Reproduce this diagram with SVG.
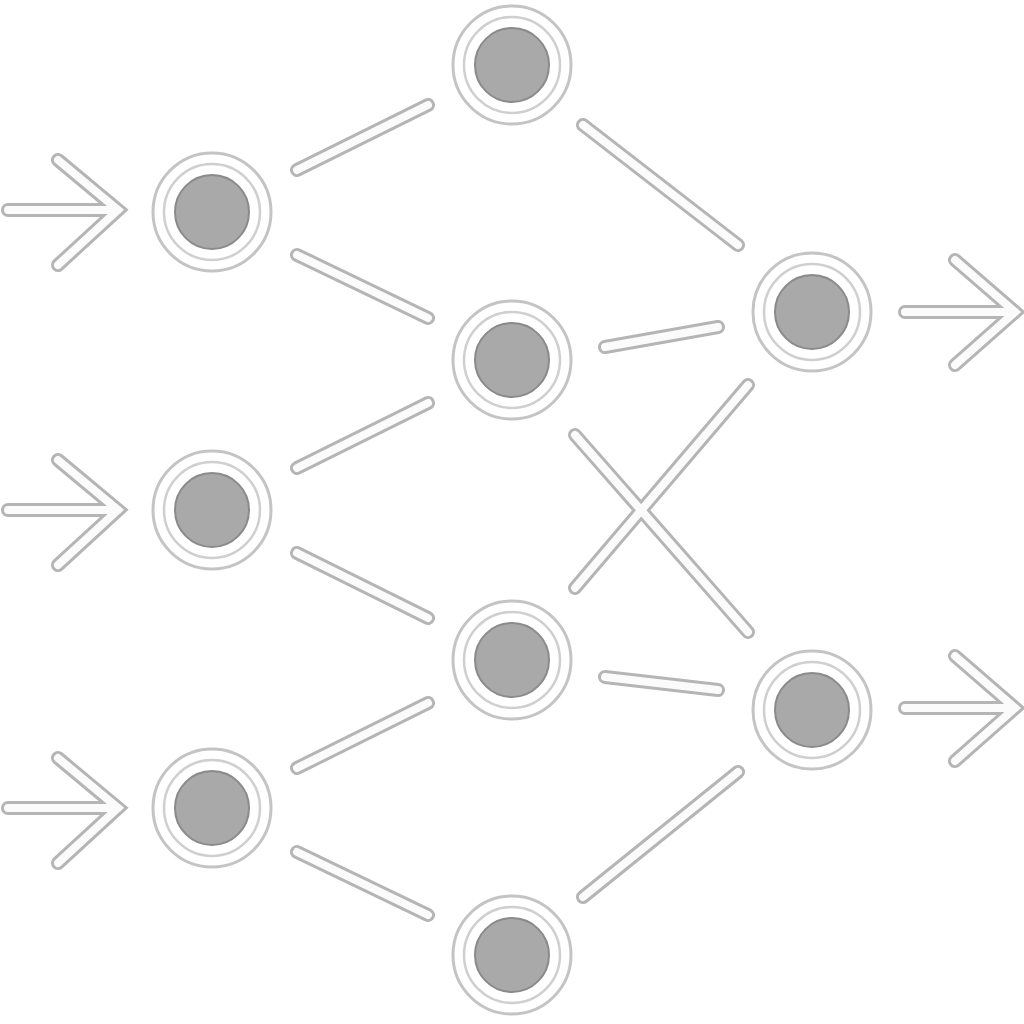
<svg xmlns="http://www.w3.org/2000/svg" width="1024" height="1024" viewBox="0 0 1024 1024">
<defs>
<style>
.o{stroke:#b5b5b5;stroke-width:14;stroke-linecap:round;fill:none}
.i{stroke:#fbfbfb;stroke-width:8;stroke-linecap:round;fill:none}
.ring{fill:#fff;stroke:#c4c4c4;stroke-width:3}
.ring2{fill:none;stroke:#cfcfcf;stroke-width:2.5}
.core{fill:#a9a9a9;stroke:#8a8a8a;stroke-width:2}
</style>
<g id="node"><circle class="ring" r="59"/><circle class="ring2" r="48"/><circle class="core" r="37"/></g>
</defs>
<rect width="1024" height="1024" fill="#fff"/>
<g id="connectors">
<g class="o">
<path d="M297 170L428 105M297 255L428 318M297 468L428 403M297 553L428 618M297 768L428 703M297 852L428 915M583 125L738 245M605 347L718 327M575 435L748 632M575 588L748 385M605 677L718 690M583 897L738 772"/>
<path d="M8 210H118M58 160L118 210L58 265M8 510H118M58 460L118 510L58 565M8 808H118M58 758L118 808L58 863M905 312H1015M955 260L1015 312L955 365M905 708H1015M955 656L1015 708L955 761"/>
</g>
<g class="i">
<path d="M297 170L428 105M297 255L428 318M297 468L428 403M297 553L428 618M297 768L428 703M297 852L428 915M583 125L738 245M605 347L718 327M575 435L748 632M575 588L748 385M605 677L718 690M583 897L738 772"/>
<path d="M8 210H118M58 160L118 210L58 265M8 510H118M58 460L118 510L58 565M8 808H118M58 758L118 808L58 863M905 312H1015M955 260L1015 312L955 365M905 708H1015M955 656L1015 708L955 761"/>
</g>
</g>
<g id="n1"><use href="#node" x="212" y="212"/></g>
<g id="n2"><use href="#node" x="212" y="510"/></g>
<g id="n3"><use href="#node" x="212" y="808"/></g>
<g id="h1"><use href="#node" x="512" y="65"/></g>
<g id="h2"><use href="#node" x="512" y="360"/></g>
<g id="h3"><use href="#node" x="512" y="660"/></g>
<g id="h4"><use href="#node" x="512" y="955"/></g>
<g id="o1"><use href="#node" x="812" y="312"/></g>
<g id="o2"><use href="#node" x="812" y="710"/></g>
</svg>
